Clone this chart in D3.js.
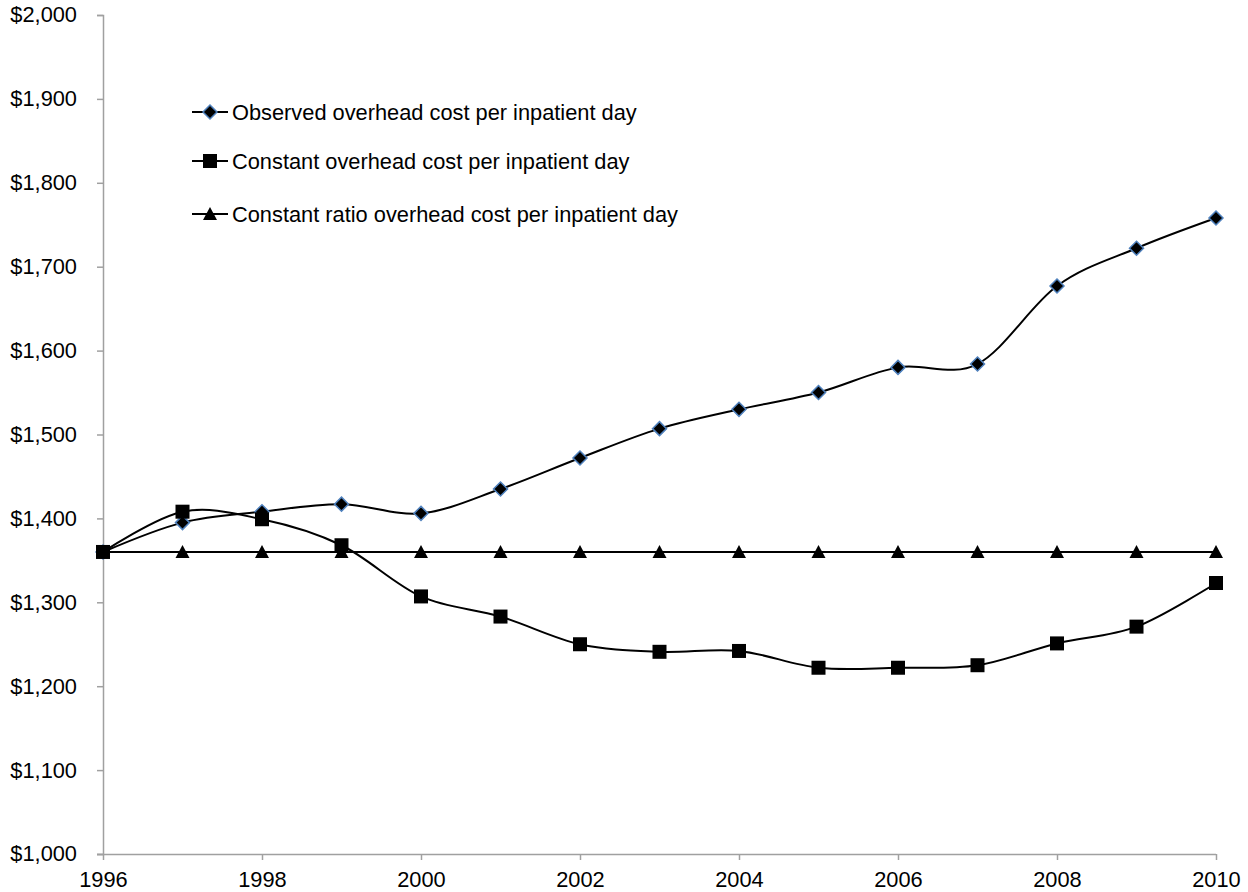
<!DOCTYPE html>
<html>
<head>
<meta charset="utf-8">
<script src="https://cdn.jsdelivr.net/npm/d3@7"></script>
<style>
  body { margin: 0; background: #fff; }
  svg { font-family: "Liberation Sans", Arial, sans-serif; }
</style>
</head>
<body>
<svg id="chart" width="1248" height="892"></svg>
<script>
const width = 1248;
const height = 892;

// Data
const years = [1996, 1997, 1998, 1999, 2000, 2001, 2002, 2003, 2004, 2005, 2006, 2007, 2008, 2009, 2010];
const observed = [1360, 1395, 1408, 1417, 1406, 1435, 1472, 1507, 1530, 1550, 1580, 1584, 1677, 1722, 1758];
const constantCost = [1360, 1408, 1399, 1368, 1307, 1283, 1250, 1241, 1242, 1222, 1222, 1225, 1251, 1271, 1323];
const constantRatio = [1360, 1360, 1360, 1360, 1360, 1360, 1360, 1360, 1360, 1360, 1360, 1360, 1360, 1360, 1360];
const seriesNames = [
  "Observed overhead cost per inpatient day",
  "Constant overhead cost per inpatient day",
  "Constant ratio overhead cost per inpatient day"
];
const xTicks = [1996, 1998, 2000, 2002, 2004, 2006, 2008, 2010];
const yTicks = [1000, 1100, 1200, 1300, 1400, 1500, 1600, 1700, 1800, 1900, 2000];

const margin = { top: 15, right: 32, bottom: 38, left: 103 };

const svg = d3.select("#chart");

const x = d3.scaleLinear()
  .domain([1996, 2010])
  .range([margin.left, width - margin.right]);

const y = d3.scaleLinear()
  .domain([1000, 2000])
  .range([height - margin.bottom, margin.top]);

const axisColor = "#a0a0a0";

// Axes
const yAxis = svg.append("g")
  .attr("transform", `translate(${margin.left},0)`)
  .call(d3.axisLeft(y).tickValues(yTicks).tickSize(6).tickPadding(20)
    .tickFormat(d => "$" + d3.format(",")(d)));

const xAxis = svg.append("g")
  .attr("transform", `translate(0,${height - margin.bottom})`)
  .call(d3.axisBottom(x).tickValues(xTicks).tickSize(6).tickPadding(14)
    .tickFormat(d3.format("d")));

[yAxis, xAxis].forEach(ax => {
  ax.select(".domain").attr("stroke", axisColor).attr("stroke-width", 1.5);
  ax.selectAll(".tick line").attr("stroke", axisColor).attr("stroke-width", 1.5);
  ax.selectAll("text").attr("fill", "#000").style("font-size", "21.8px")
    .style("font-family", "'Liberation Sans', Arial, sans-serif");
});
xAxis.selectAll("text").attr("dy", "0.6em");
// extend the x baseline left to meet the $1,000 tick
xAxis.select(".domain").attr("d", `M${margin.left - 6},0.5H${width - margin.right}`);

// Series
const series = [
  { name: seriesNames[0], values: observed, shape: "diamond" },
  { name: seriesNames[1], values: constantCost, shape: "square" },
  { name: seriesNames[2], values: constantRatio, shape: "triangle" }
];

const line = d3.line()
  .x((d, i) => x(years[i]))
  .y(d => y(d))
  .curve(d3.curveCatmullRom.alpha(0));

function drawMarker(g, shape) {
  if (shape === "diamond") {
    g.append("path")
      .attr("d", "M0,-7L7,0L0,7L-7,0Z")
      .attr("fill", "#000")
      .attr("stroke", "#4f81bd")
      .attr("stroke-width", 1.5);
  } else if (shape === "square") {
    g.append("rect")
      .attr("x", -7).attr("y", -7)
      .attr("width", 14).attr("height", 14)
      .attr("fill", "#000");
  } else {
    g.append("path")
      .attr("d", "M0,-7L7,6L-7,6Z")
      .attr("fill", "#000");
  }
}

series.forEach(s => {
  svg.append("path")
    .datum(s.values)
    .attr("fill", "none")
    .attr("stroke", "#000")
    .attr("stroke-width", 2)
    .attr("d", line);

  svg.append("g")
    .selectAll("g")
    .data(s.values)
    .enter().append("g")
    .attr("transform", (d, i) => `translate(${x(years[i])},${y(d)})`)
    .each(function () { drawMarker(d3.select(this), s.shape); });
});

// Legend
const legend = svg.append("g");
const legendY = [112, 161, 214];

series.forEach((s, i) => {
  const item = legend.append("g")
    .attr("transform", `translate(192,${legendY[i]})`);
  item.append("line")
    .attr("x1", 0).attr("x2", 36)
    .attr("y1", 0).attr("y2", 0)
    .attr("stroke", "#000").attr("stroke-width", 2);
  const m = item.append("g").attr("transform", "translate(18,0)");
  drawMarker(m, s.shape);
  item.append("text")
    .attr("x", 40)
    .attr("y", 0)
    .attr("dy", "0.36em")
    .style("font-size", "21.8px")
    .attr("fill", "#000")
    .text(s.name);
});
</script>
</body>
</html>
